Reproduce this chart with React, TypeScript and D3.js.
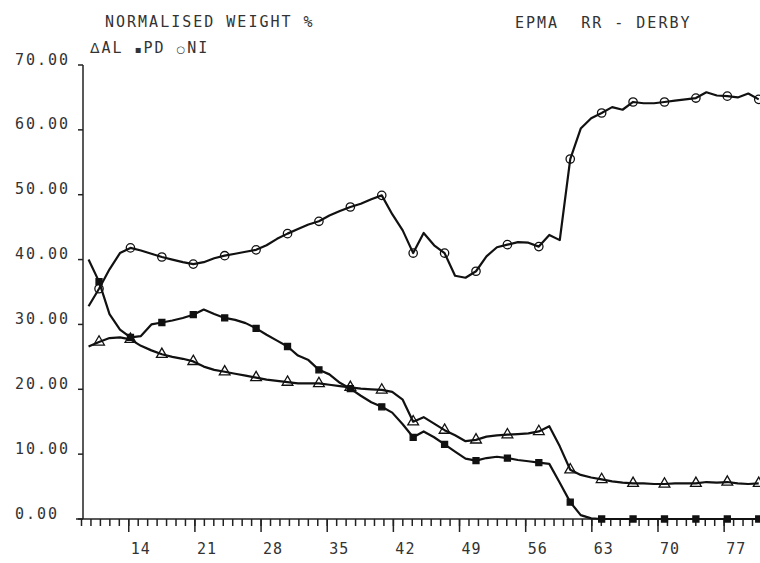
import React, {useEffect, useRef} from 'react';
import * as d3 from 'd3';

// sampling grid of the EPMA line scan (distance units on the x axis)
const firstDistance = 9.8;
const sampleStep = 1.108;
const markerEvery = 3;
const markerOffset = 1;

const al = [
  26.6, 27.3, 27.9, 28.0, 27.7, 26.7, 26.0, 25.4, 25.0, 24.7,
  24.3, 23.5, 23.0, 22.7, 22.4, 22.1, 21.8, 21.5, 21.3, 21.1,
  20.9, 20.9, 20.9, 20.7, 20.5, 20.3, 20.1, 20.0, 19.9, 19.6,
  18.4, 15.0, 15.7, 14.7, 13.7, 12.9, 12.0, 12.2, 12.7, 12.9,
  13.0, 13.1, 13.2, 13.5, 14.3, 11.2, 7.6, 6.8, 6.4, 6.1,
  5.8, 5.6, 5.5, 5.5, 5.4, 5.4, 5.5, 5.5, 5.5, 5.7,
  5.6, 5.7, 5.5, 5.4, 5.5,
];

const pd = [
  40.0, 36.6, 31.6, 29.2, 28.0, 28.2, 30.0, 30.3, 30.6, 31.0,
  31.5, 32.3, 31.6, 31.0, 30.7, 30.2, 29.4, 28.4, 27.5, 26.6,
  25.2, 24.5, 23.0, 22.3, 21.0, 20.1, 19.0, 18.0, 17.3, 16.4,
  14.6, 12.6, 13.5, 12.6, 11.5, 10.4, 9.3, 9.0, 9.4, 9.6,
  9.4, 9.1, 8.9, 8.7, 8.5, 5.6, 2.6, 0.6, 0.1, 0.0,
  0.0, 0.0, 0.0, 0.0, 0.0, 0.0, 0.0, 0.0, 0.0, 0.0,
  0.0, 0.0, 0.0, 0.0, 0.0,
];

const ni = [
  32.8, 35.5, 38.5, 41.0, 41.8, 41.4, 40.9, 40.4, 40.0, 39.6,
  39.3, 39.6, 40.2, 40.6, 40.9, 41.2, 41.5, 42.2, 43.2, 44.0,
  44.7, 45.4, 45.9, 46.8, 47.5, 48.1, 48.6, 49.3, 49.9, 47.0,
  44.5, 41.0, 44.1, 42.2, 41.0, 37.5, 37.2, 38.2, 40.5, 41.9,
  42.3, 42.7, 42.6, 42.0, 43.8, 43.0, 55.5, 60.2, 61.8, 62.6,
  63.5, 63.1, 64.3, 64.1, 64.1, 64.3, 64.5, 64.7, 64.9, 65.8,
  65.3, 65.2, 65.0, 65.6, 64.7,
];

const majorTicks = [14, 21, 28, 35, 42, 49, 56, 63, 70, 77];
const yTicks = [0, 10, 20, 30, 40, 50, 60, 70];
const legend = [
  {mark: '\u0394', label: 'AL'},
  {mark: '\u25aa', label: 'PD'},
  {mark: '\u25cb', label: 'NI'},
];

const FONT = 'DejaVu Sans Mono';
const INK = '#333';

export default function App() {
  const svgRef = useRef<SVGSVGElement>(null);

  useEffect(() => {
    const svg = d3.select(svgRef.current);
    svg.selectAll('*').remove();

    const x = d3.scaleLinear().domain([9, 80]).range([81, 752]);
    const y = d3.scaleLinear().domain([0, 70]).range([519, 65]);
    const distance = al.map((_, i) => firstDistance + i * sampleStep);

    const text = (s: string, tx: number, ty: number, size = 15, spacing = 2) =>
      svg.append('text')
        .attr('x', tx).attr('y', ty)
        .attr('font-family', FONT).attr('font-size', size)
        .attr('letter-spacing', spacing)
        .attr('fill', INK)
        .style('white-space', 'pre')
        .text(s);
    text('NORMALISED WEIGHT %', 105, 27);
    text('EPMA  RR - DERBY', 515, 28);

    // legend: small glyph + element name
    const lg = svg.append('text')
      .attr('x', 90).attr('y', 53)
      .attr('font-family', FONT).attr('font-size', 15)
      .attr('letter-spacing', 2).attr('fill', INK)
      .style('white-space', 'pre');
    legend.forEach((l, i) => {
      lg.append('tspan')
        .attr('font-family', 'DejaVu Sans')
        .attr('font-size', i === 0 ? 14 : 10)
        .text(l.mark);
      lg.append('tspan').text(l.label + (i < legend.length - 1 ? ' ' : ''));
    });

    // y axis
    svg.append('line')
      .attr('x1', 83).attr('x2', 83).attr('y1', y(70)).attr('y2', y(0))
      .attr('stroke', '#222').attr('stroke-width', 1.5);
    yTicks.forEach(t => {
      svg.append('line')
        .attr('x1', 78).attr('x2', 83).attr('y1', y(t)).attr('y2', y(t))
        .attr('stroke', '#222').attr('stroke-width', 1.5);
      text(t.toFixed(2), 15, y(t) - 0.5);
    });

    // x axis: minor ticks every unit, longer ticks every 7
    svg.append('line')
      .attr('x1', 76).attr('x2', 760).attr('y1', y(0)).attr('y2', y(0))
      .attr('stroke', '#222').attr('stroke-width', 1.5);
    const minor = d3.axisBottom(x).tickValues(d3.range(9, 81)).tickSize(7).tickSizeOuter(0).tickFormat(() => '');
    const gMinor = svg.append('g').attr('transform', `translate(0,${y(0)})`).call(minor);
    gMinor.select('.domain').remove();
    gMinor.selectAll('line').attr('stroke', '#222').attr('stroke-width', 1.5);

    const major = d3.axisBottom(x).tickValues(majorTicks).tickSize(13).tickSizeOuter(0).tickFormat(d => String(d));
    const gMajor = svg.append('g').attr('transform', `translate(0,${y(0)})`).call(major);
    gMajor.select('.domain').remove();
    gMajor.selectAll('line').attr('stroke', '#222').attr('stroke-width', 1.5);
    gMajor.selectAll('text')
      .attr('font-family', FONT).attr('font-size', 15).attr('letter-spacing', 1)
      .attr('fill', INK).attr('text-anchor', 'start')
      .attr('x', 2).attr('y', 35).attr('dy', 0);

    // curves
    const series = [
      {name: 'AL', values: al, symbol: d3.symbolTriangle, size: 50, fill: 'none'},
      {name: 'PD', values: pd, symbol: d3.symbolSquare, size: 36, fill: '#111'},
      {name: 'NI', values: ni, symbol: d3.symbolCircle, size: 55, fill: 'none'},
    ];
    const line = d3.line<number>()
      .x((_, i) => x(distance[i]))
      .y(d => y(d));

    series.forEach(s => {
      svg.append('path')
        .datum(s.values)
        .attr('fill', 'none')
        .attr('stroke', '#111')
        .attr('stroke-width', 2.2)
        .attr('stroke-linejoin', 'round')
        .attr('d', line);

      const marks = s.values
        .map((v, i) => ({v, i}))
        .filter(d => d.i % markerEvery === markerOffset);
      svg.append('g')
        .selectAll('path')
        .data(marks)
        .join('path')
        .attr('transform', d => `translate(${x(distance[d.i])},${y(d.v)})`)
        .attr('d', d3.symbol().type(s.symbol).size(s.size)())
        .attr('fill', s.fill)
        .attr('stroke', '#111')
        .attr('stroke-width', 1.3);
    });
  }, []);

  return (
    <div style={{position: 'absolute', left: 0, top: 0, background: '#fff'}}>
      <svg ref={svgRef} width={760} height={563} />
    </div>
  );
}
